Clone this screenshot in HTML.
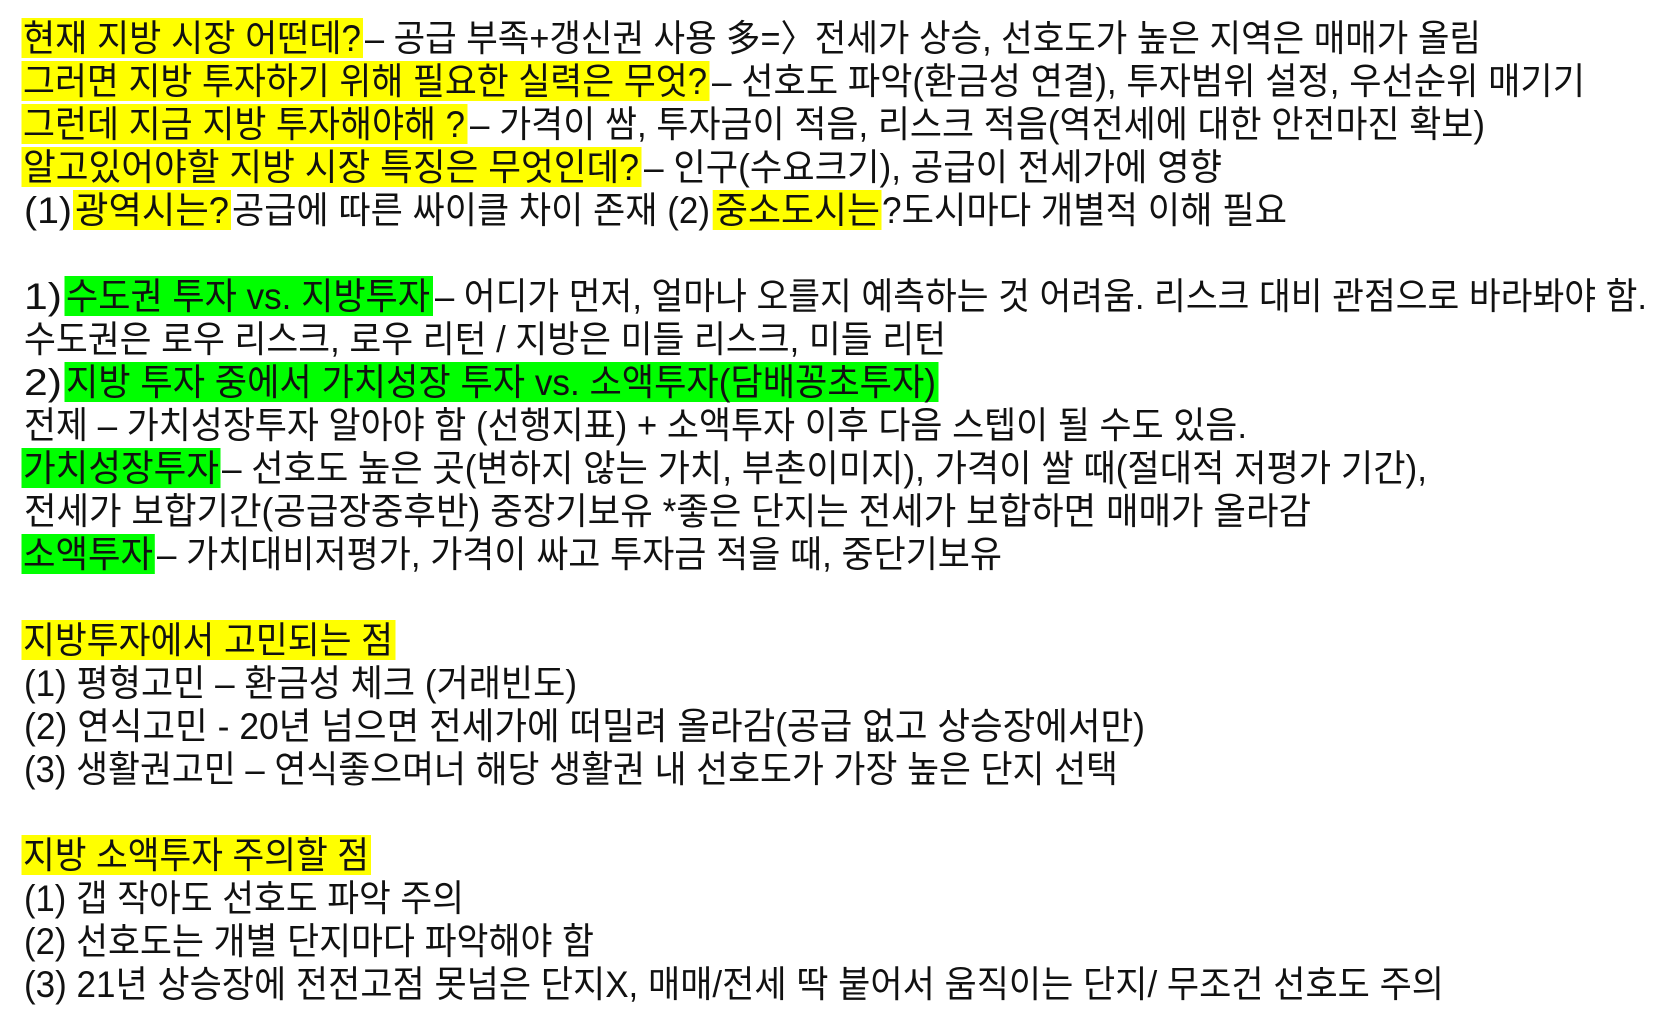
<!DOCTYPE html>
<html><head><meta charset="utf-8"><style>
html,body{margin:0;padding:0;background:#fff;}
svg{display:block;}
text{font-family:"Liberation Sans","Noto Sans CJK KR",sans-serif;font-size:37px;fill:#111;}
</style></head><body>
<svg width="1680" height="1021" viewBox="0 0 1680 1021" xmlns="http://www.w3.org/2000/svg">
<rect width="1680" height="1021" fill="#fff"/>
<g fill="#ffff00">
<rect x="21.5" y="18" width="341.5" height="40"/>
<rect x="21.5" y="61" width="688" height="40"/>
<rect x="21.5" y="104" width="446" height="40"/>
<rect x="21.5" y="147" width="620" height="40"/>
<rect x="73" y="190" width="158" height="40"/>
<rect x="712.7" y="190" width="168.8" height="40"/>
<rect x="21.5" y="620" width="374" height="40"/>
<rect x="21.5" y="835" width="349.5" height="40"/>
</g>
<g fill="#00ff00">
<rect x="64.5" y="276" width="368.5" height="40"/>
<rect x="64.5" y="362" width="874" height="40"/>
<rect x="21.5" y="448" width="199" height="40"/>
<rect x="21.5" y="534" width="133.3" height="40"/>
</g>
<g>
<text x="23" y="51" textLength="338" lengthAdjust="spacingAndGlyphs">현재 지방 시장 어떤데?</text>
<text x="365" y="51" textLength="1116" lengthAdjust="spacingAndGlyphs">– 공급 부족+갱신권 사용 多=〉전세가 상승, 선호도가 높은 지역은 매매가 올림</text>

<text x="23" y="94" textLength="684" lengthAdjust="spacingAndGlyphs">그러면 지방 투자하기 위해 필요한 실력은 무엇?</text>
<text x="712" y="94" textLength="873" lengthAdjust="spacingAndGlyphs">– 선호도 파악(환금성 연결), 투자범위 설정, 우선순위 매기기</text>

<text x="23" y="137" textLength="442" lengthAdjust="spacingAndGlyphs">그런데 지금 지방 투자해야해 ?</text>
<text x="470" y="137" textLength="1015" lengthAdjust="spacingAndGlyphs">– 가격이 쌈, 투자금이 적음, 리스크 적음(역전세에 대한 안전마진 확보)</text>

<text x="23" y="180" textLength="616" lengthAdjust="spacingAndGlyphs">알고있어야할 지방 시장 특징은 무엇인데?</text>
<text x="644" y="180" textLength="578" lengthAdjust="spacingAndGlyphs">– 인구(수요크기), 공급이 전세가에 영향</text>

<text x="24" y="223" textLength="48" lengthAdjust="spacingAndGlyphs">(1)</text>
<text x="75" y="223" textLength="154" lengthAdjust="spacingAndGlyphs">광역시는?</text>
<text x="232" y="223" textLength="478" lengthAdjust="spacingAndGlyphs">공급에 따른 싸이클 차이 존재 (2)</text>
<text x="715" y="223" textLength="165" lengthAdjust="spacingAndGlyphs">중소도시는</text>
<text x="882" y="223" textLength="405" lengthAdjust="spacingAndGlyphs">?도시마다 개별적 이해 필요</text>

<text x="24" y="309" textLength="38" lengthAdjust="spacingAndGlyphs">1)</text>
<text x="66" y="309" textLength="364" lengthAdjust="spacingAndGlyphs">수도권 투자 vs. 지방투자</text>
<text x="435" y="309" textLength="1212" lengthAdjust="spacingAndGlyphs">– 어디가 먼저, 얼마나 오를지 예측하는 것 어려움. 리스크 대비 관점으로 바라봐야 함.</text>

<text x="24" y="352" textLength="922" lengthAdjust="spacingAndGlyphs">수도권은 로우 리스크, 로우 리턴 / 지방은 미들 리스크, 미들 리턴</text>

<text x="24" y="395" textLength="38" lengthAdjust="spacingAndGlyphs">2)</text>
<text x="66" y="395" textLength="870" lengthAdjust="spacingAndGlyphs">지방 투자 중에서 가치성장 투자 vs. 소액투자(담배꽁초투자)</text>

<text x="24" y="438" textLength="1223" lengthAdjust="spacingAndGlyphs">전제 – 가치성장투자 알아야 함 (선행지표) + 소액투자 이후 다음 스텝이 될 수도 있음.</text>

<text x="23" y="481" textLength="196" lengthAdjust="spacingAndGlyphs">가치성장투자</text>
<text x="222" y="481" textLength="1205" lengthAdjust="spacingAndGlyphs">– 선호도 높은 곳(변하지 않는 가치, 부촌이미지), 가격이 쌀 때(절대적 저평가 기간),</text>

<text x="24" y="524" textLength="1287" lengthAdjust="spacingAndGlyphs">전세가 보합기간(공급장중후반) 중장기보유 *좋은 단지는 전세가 보합하면 매매가 올라감</text>

<text x="23" y="567" textLength="130" lengthAdjust="spacingAndGlyphs">소액투자</text>
<text x="157" y="567" textLength="845" lengthAdjust="spacingAndGlyphs">– 가치대비저평가, 가격이 싸고 투자금 적을 때, 중단기보유</text>

<text x="23" y="653" textLength="370" lengthAdjust="spacingAndGlyphs">지방투자에서 고민되는 점</text>
<text x="24" y="696" textLength="553" lengthAdjust="spacingAndGlyphs">(1) 평형고민 – 환금성 체크 (거래빈도)</text>
<text x="24" y="739" textLength="1121" lengthAdjust="spacingAndGlyphs">(2) 연식고민 - 20년 넘으면 전세가에 떠밀려 올라감(공급 없고 상승장에서만)</text>
<text x="24" y="782" textLength="1094" lengthAdjust="spacingAndGlyphs">(3) 생활권고민 – 연식좋으며너 해당 생활권 내 선호도가 가장 높은 단지 선택</text>

<text x="23" y="868" textLength="346" lengthAdjust="spacingAndGlyphs">지방 소액투자 주의할 점</text>
<text x="24" y="911" textLength="440" lengthAdjust="spacingAndGlyphs">(1) 갭 작아도 선호도 파악 주의</text>
<text x="24" y="954" textLength="570" lengthAdjust="spacingAndGlyphs">(2) 선호도는 개별 단지마다 파악해야 함</text>
<text x="24" y="997" textLength="1420" lengthAdjust="spacingAndGlyphs">(3) 21년 상승장에 전전고점 못넘은 단지X, 매매/전세 딱 붙어서 움직이는 단지/ 무조건 선호도 주의</text>
</g>
</svg>
</body></html>
